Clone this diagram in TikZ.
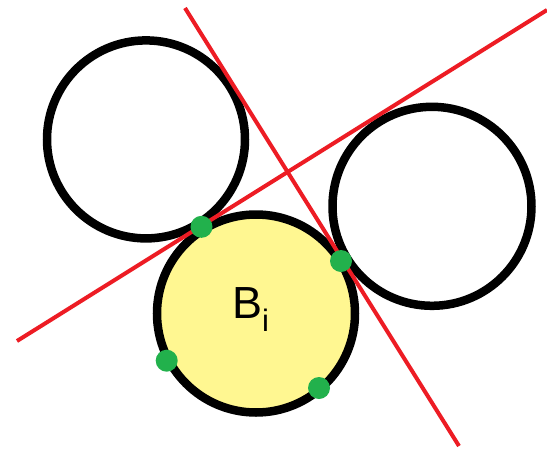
\documentclass[tikz,border=0pt]{standalone}
\usepackage{fontspec}
\setmainfont{Liberation Sans}
\definecolor{paintred}{RGB}{237,28,36}
\definecolor{paintgreen}{RGB}{34,177,76}
\definecolor{lightyel}{RGB}{255,247,145}
\begin{document}
\begin{tikzpicture}[x=1pt,y=-1pt,
  ball/.style={draw=black,line width=8.5pt},
  tangent/.style={draw=paintred,line width=4pt},
  contact/.style={fill=paintgreen}]
\useasboundingbox[fill=white] (0,0) rectangle (547,448);
% circles
\coordinate (c1) at (146,139.4);
\coordinate (c2) at (432,206.3);
\coordinate (cb) at (256,313.5);
\draw[ball] (c1) circle (99pt);
\draw[ball] (c2) circle (99.5pt);
\draw[ball,fill=lightyel] (cb) circle (99pt);
% tangent lines
\coordinate (l1a) at (17,341);
\coordinate (l1b) at (547,10);
\coordinate (l2a) at (185,8);
\coordinate (l2b) at (459,446);
\draw[tangent] (l1a) -- (l1b);
\draw[tangent] (l2a) -- (l2b);
% contact points
\fill[contact] (201.5,226.8) circle (11pt);
\fill[contact] (341,261) circle (11pt);
\fill[contact] (166.7,360.7) circle (11pt);
\fill[contact] (319,388) circle (11pt);
% label
\node[anchor=base west,inner sep=0pt,font=\fontsize{45}{45}\selectfont] (lab) at (232,318) {B\raisebox{-13pt}{\fontsize{31}{31}\selectfont i}};
\end{tikzpicture}
\end{document}
